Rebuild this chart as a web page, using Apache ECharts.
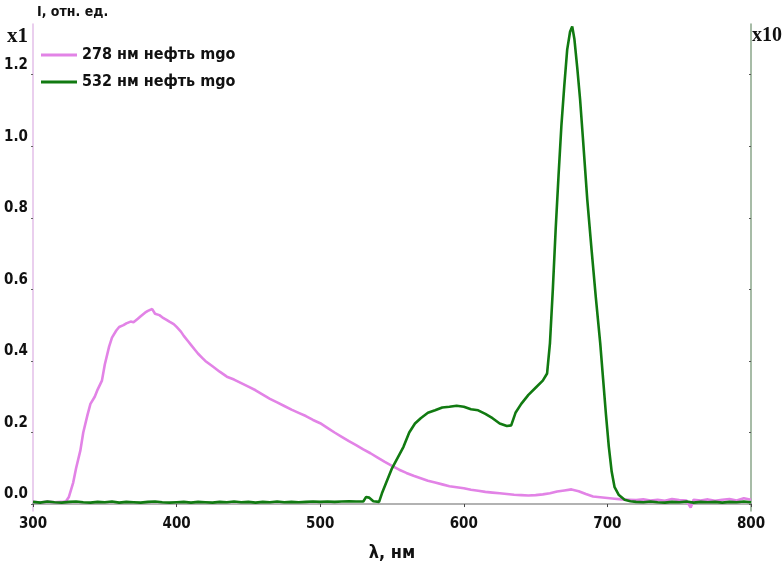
<!DOCTYPE html>
<html>
<head>
<meta charset="utf-8">
<script src="https://cdn.jsdelivr.net/npm/echarts@6/dist/echarts.min.js"></script>
<style>html,body{margin:0;padding:0;background:#fff}#c{width:783px;height:567px}</style>
</head>
<body>
<div id="c"></div>
<script>
const xTicks = [300, 400, 500, 600, 700, 800];
const yTicks = [0, 0.2, 0.4, 0.6, 0.8, 1.0, 1.2];

const pinkName = '278 нм нефть mgo';
const greenName = '532 нм нефть mgo';

const pinkWl = [300,305,310,315,320,323,325,328,330,333,335,338,340,343,345,348,350,353,355,358,360,363,365,368,370,373,375,378,380,383,385,388,390,393,395,398,400,403,405,408,410,413,415,418,420,425,430,435,440,445,450,455,460,465,470,475,480,485,490,495,500,505,510,515,520,525,530,535,540,545,550,555,560,565,570,575,580,585,590,595,600,605,610,615,620,625,630,635,640,645,650,655,660,665,670,675,680,685,690,695,700,705,710,715,720,725,730,735,740,745,750,755,758,760,765,770,775,780,785,790,795,800];
const pinkI = [0.006,0.004,0.007,0.005,0.006,0.008,0.02,0.06,0.1,0.15,0.2,0.25,0.28,0.3,0.32,0.345,0.39,0.44,0.465,0.485,0.495,0.5,0.505,0.51,0.508,0.518,0.525,0.535,0.54,0.545,0.532,0.528,0.522,0.515,0.51,0.503,0.495,0.482,0.47,0.455,0.445,0.43,0.42,0.408,0.4,0.385,0.37,0.356,0.348,0.338,0.328,0.318,0.306,0.294,0.284,0.274,0.264,0.255,0.246,0.235,0.226,0.213,0.2,0.188,0.176,0.165,0.153,0.142,0.13,0.118,0.107,0.096,0.087,0.079,0.072,0.065,0.06,0.055,0.05,0.047,0.044,0.04,0.037,0.034,0.032,0.03,0.028,0.026,0.025,0.024,0.025,0.027,0.03,0.035,0.038,0.041,0.036,0.028,0.021,0.019,0.017,0.015,0.013,0.012,0.011,0.013,0.01,0.012,0.009,0.014,0.011,0.01,-0.01,0.012,0.01,0.013,0.009,0.012,0.014,0.01,0.016,0.012];

const greenWl = [300,305,310,315,320,325,330,335,340,345,350,355,360,365,370,375,380,385,390,395,400,405,410,415,420,425,430,435,440,445,450,455,460,465,470,475,480,485,490,495,500,505,510,515,520,525,530,532,534,537,541,543,546,550,554,558,562,566,570,575,580,585,590,595,600,605,610,615,620,625,630,633,636,640,645,650,655,658,660,662,664,666,668,670,672,674,675.5,677,679,681,683,686,689,692,695,697,699,701,703,705,708,712,716,720,725,730,735,740,745,750,755,760,765,770,775,780,785,790,795,800];
const greenI = [0.006,0.004,0.007,0.005,0.004,0.006,0.007,0.005,0.004,0.006,0.005,0.007,0.004,0.006,0.005,0.004,0.006,0.007,0.005,0.004,0.005,0.006,0.004,0.006,0.005,0.004,0.006,0.005,0.007,0.005,0.006,0.004,0.006,0.005,0.007,0.005,0.006,0.005,0.006,0.007,0.006,0.007,0.006,0.007,0.008,0.007,0.007,0.02,0.018,0.008,0.006,0.03,0.06,0.1,0.13,0.16,0.2,0.225,0.24,0.255,0.262,0.27,0.272,0.275,0.272,0.265,0.262,0.252,0.24,0.225,0.218,0.22,0.255,0.28,0.305,0.325,0.345,0.365,0.45,0.6,0.77,0.92,1.06,1.17,1.27,1.32,1.335,1.3,1.22,1.13,1.02,0.85,0.71,0.575,0.45,0.35,0.25,0.16,0.09,0.047,0.025,0.012,0.008,0.006,0.005,0.007,0.005,0.004,0.006,0.005,0.007,0.004,0.006,0.005,0.006,0.004,0.006,0.005,0.007,0.005];

const FONT = '"DejaVu Sans Condensed","DejaVu Sans",sans-serif';
const yMin = -0.0194, yMax = 1.3417;

const chart = echarts.init(document.getElementById('c'), null, {renderer: 'canvas'});
chart.setOption({
  animation: false,
  backgroundColor: '#fff',
  grid: {left: 33, right: 32, top: 24, bottom: 53},
  legend: {
    orient: 'vertical', left: 36, top: 42, itemGap: 11,
    icon: 'rect', itemWidth: 36, itemHeight: 3,
    textStyle: {fontFamily: FONT, fontWeight: 'bold', fontSize: 16, color: '#111'},
    data: [pinkName, greenName]
  },
  xAxis: [{
    type: 'value', min: xTicks[0], max: xTicks[xTicks.length - 1], interval: 100,
    name: 'λ, нм', nameLocation: 'middle', nameGap: 33,
    nameTextStyle: {fontFamily: FONT, fontWeight: 'bold', fontSize: 18, color: '#111'},
    axisLine: {lineStyle: {color: '#444', width: 1.5}},
    axisTick: {show: true, length: 3, lineStyle: {color: '#444'}},
    axisLabel: {fontFamily: FONT, fontWeight: 'bold', fontSize: 15, color: '#111', margin: 6},
    splitLine: {show: false}
  }, {
    type: 'value', position: 'top', min: 300, max: 800,
    axisLine: {lineStyle: {color: '#c8c8c8', width: 1.5}},
    axisTick: {show: false}, axisLabel: {show: false}, splitLine: {show: false}
  }],
  yAxis: [{
    type: 'value', min: yMin, max: yMax, position: 'left',
    axisLine: {show: true, lineStyle: {color: '#e3bfe8', width: 1.5}},
    axisTick: {show: true, length: 2, customValues: yTicks, lineStyle: {color: '#666'}},
    axisLabel: {
      customValues: yTicks, fontFamily: FONT, fontWeight: 'bold', fontSize: 15, color: '#111',
      margin: 5, verticalAlign: 'bottom', padding: [0, 0, 2, 0],
      formatter: v => v.toFixed(1)
    },
    splitLine: {show: false}
  }, {
    type: 'value', min: yMin, max: yMax, position: 'right',
    axisLine: {show: true, lineStyle: {color: '#8aa68a', width: 1.5}},
    axisTick: {show: true, length: 2, inside: true, customValues: yTicks, lineStyle: {color: '#555'}},
    axisLabel: {show: false},
    splitLine: {show: false}
  }],
  graphic: [
    {type: 'text', left: 37, top: 5, style: {text: 'I, отн. ед.', fontFamily: FONT, fontWeight: 'bold', fontSize: 14, fill: '#111'}},
    {type: 'text', left: 7, top: 26, style: {text: 'x1', fontFamily: '"Liberation Serif","DejaVu Serif",serif', fontWeight: 'bold', fontSize: 21, fill: '#111'}},
    {type: 'text', left: 752, top: 26, style: {text: 'x10', fontFamily: '"Liberation Serif","DejaVu Serif",serif', fontWeight: 'bold', fontSize: 20, fill: '#111'}}
  ],
  series: [{
    name: pinkName, type: 'line', xAxisIndex: 0, yAxisIndex: 0,
    showSymbol: false, symbol: 'none',
    lineStyle: {color: '#e283e6', width: 2.6}, itemStyle: {color: '#e283e6'},
    data: pinkWl.map((w, i) => [w, pinkI[i]])
  }, {
    name: greenName, type: 'line', xAxisIndex: 0, yAxisIndex: 1,
    showSymbol: false, symbol: 'none',
    lineStyle: {color: '#117a11', width: 2.6}, itemStyle: {color: '#117a11'},
    data: greenWl.map((w, i) => [w, greenI[i]])
  }]
});
</script>
</body>
</html>
